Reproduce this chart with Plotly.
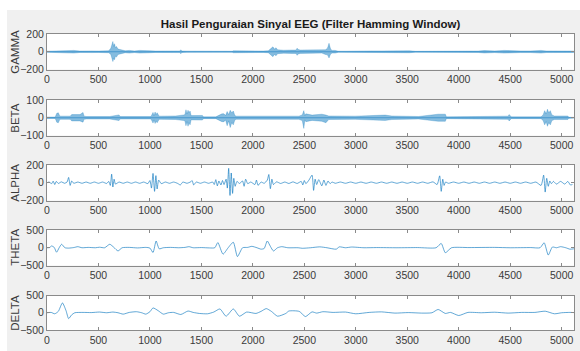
import plotly.graph_objects as go
from plotly.subplots import make_subplots

# ---------------- data ----------------
title_text = "Hasil Penguraian Sinyal EEG (Filter Hamming Window)"
band_names = ["GAMMA", "BETA", "ALPHA", "THETA", "DELTA"]
y_limits = [200, 100, 200, 500, 500]
x_ticks = [0, 500, 1000, 1500, 2000, 2500, 3000, 3500, 4000, 4500, 5000]
n_samples = 5120

# GAMMA: dense oscillation -> upper / lower envelope
gamma_x = [0, 60, 120, 200, 260, 320, 380, 430, 500, 560, 600, 620, 632, 640, 648, 656,
           665, 675, 690, 720, 760, 800, 850, 900, 950, 1000, 1050, 1100, 1200, 1290, 1300,
           1310, 1360, 1450, 1460, 1550, 1640, 1650, 1700, 1800, 1810, 1900, 2000, 2100,
           2150, 2180, 2195, 2210, 2225, 2240, 2260, 2300, 2380, 2420, 2430, 2440, 2460,
           2520, 2575, 2620, 2670, 2705, 2725, 2740, 2755, 2770, 2800, 2830, 2900, 3000,
           3030, 3060, 3150, 3250, 3350, 3400, 3470, 3520, 3580, 3700, 3850, 4000, 4060,
           4130, 4190, 4250, 4350, 4440, 4510, 4600, 4700, 4800, 4850, 4930, 5000, 5119]
gamma_hi = [6, 9, 14, 12, 15, 8, 11, 9, 8, 9, 11, 40, 80, 115, 60, 90,
            45, 60, 30, 20, 11, 15, 9, 15, 9, 11, 8, 9, 8, 9, 22,
            8, 7, 6, 12, 6, 6, 11, 6, 6, 11, 8, 8, 8,
            11, 35, 55, 30, 45, 22, 20, 17, 19, 19, 40, 25, 19,
            19, 17, 15, 15, 22, 40, 95, 30, 15, 15, 6, 6, 8,
            14, 9, 9, 9, 11, 14, 11, 11, 5, 5, 5, 5, 9,
            9, 8, 14, 9, 15, 9, 9, 9, 15, 9, 9, 9, 8]
gamma_lo = [-6, -9, -14, -12, -15, -8, -11, -9, -8, -9, -11, -30, -70, -110, -75, -90,
            -50, -60, -30, -20, -11, -15, -9, -15, -9, -11, -8, -9, -8, -9, -22,
            -8, -7, -6, -12, -6, -6, -11, -6, -6, -11, -8, -8, -8,
            -11, -35, -55, -30, -45, -22, -20, -17, -19, -19, -40, -25, -19,
            -19, -17, -15, -15, -30, -35, -70, -25, -15, -15, -6, -6, -8,
            -14, -9, -9, -9, -11, -14, -11, -11, -5, -5, -5, -5, -9,
            -9, -8, -14, -9, -15, -9, -9, -9, -15, -9, -9, -9, -8]

# BETA: dense oscillation -> upper / lower envelope
beta_x = [0, 80, 95, 110, 125, 225, 240, 320, 350, 360, 385, 610, 700, 710, 1010, 1030,
          1040, 1050, 1060, 1070, 1090, 1250, 1330, 1340, 1350, 1360, 1370, 1380, 1390,
          1400, 1510, 1520, 1640, 1700, 1720, 1735, 1750, 1765, 1780, 1795, 1810, 1825,
          1840, 1990, 2220, 2447, 2480, 2495, 2505, 2515, 2575, 2670, 2710, 2737, 2995,
          3285, 3350, 3610, 3800, 3870, 3880, 4320, 4480, 4490, 4500, 4510, 4800, 4820,
          4835, 4850, 4862, 4875, 4890, 4905, 4930, 5060, 5070, 5119]
beta_hi = [4, 4, 25, 28, 9, 9, 18, 18, 30, 9, 7, 7, 16, 7, 7, 30,
           12, 32, 18, 28, 9, 10, 16, 18, 45, 22, 42, 28, 38,
           12, 13, 5, 5, 22, 22, 12, 35, 18, 42, 28, 38, 12,
           9, 10, 10, 9, 16, 40, 12, 22, 15, 20, 15, 10, 9,
           15, 10, 7, 20, 20, 5, 5, 9, 18, 9, 5, 5, 16,
           40, 22, 48, 28, 40, 16, 10, 10, 3, 2]
beta_lo = [-4, -4, -25, -28, -9, -9, -18, -18, -25, -9, -7, -7, -16, -7, -7, -30,
           -12, -32, -18, -28, -9, -10, -16, -18, -45, -22, -48, -28, -40,
           -12, -13, -5, -5, -22, -22, -12, -45, -18, -55, -28, -40, -12,
           -9, -10, -10, -9, -16, -60, -12, -22, -15, -20, -28, -10, -9,
           -15, -10, -7, -20, -20, -5, -5, -9, -18, -9, -5, -5, -16,
           -40, -22, -48, -28, -40, -16, -10, -10, -3, -2]

# ALPHA: waveform points
alpha_x = [0, 20, 45, 60, 75, 90, 110, 140, 170, 195, 210, 225, 240, 260, 300, 340, 380,
           420, 460, 500, 540, 580, 600, 615, 628, 640, 652, 665, 700, 740, 780, 820, 860,
           900, 940, 980, 1000, 1015, 1030, 1045, 1058, 1070, 1085, 1110, 1150, 1190,
           1230, 1270, 1295, 1320, 1360, 1395, 1410, 1425, 1450, 1490, 1530, 1570, 1610,
           1625, 1640, 1655, 1670, 1690, 1705, 1720, 1740, 1752, 1765, 1778, 1790, 1803,
           1815, 1828, 1845, 1870, 1900, 1915, 1930, 1950, 1980, 2020, 2035, 2050, 2080,
           2110, 2140, 2155, 2170, 2185, 2200, 2230, 2270, 2310, 2350, 2390, 2430, 2470,
           2485, 2500, 2515, 2545, 2575, 2590, 2605, 2620, 2640, 2670, 2690, 2710, 2730,
           2750, 2770, 2800, 2850, 2900, 2950, 3000, 3050, 3100, 3150, 3200, 3250, 3300,
           3350, 3400, 3450, 3500, 3550, 3600, 3650, 3700, 3750, 3790, 3815, 3830, 3845,
           3858, 3872, 3900, 3950, 4000, 4050, 4100, 4150, 4200, 4250, 4300, 4350, 4400,
           4450, 4500, 4550, 4600, 4650, 4700, 4750, 4800, 4825, 4840, 4855, 4870, 4885,
           4900, 4920, 4950, 4990, 5030, 5060, 5085, 5105, 5119]
alpha_y = [0, 8, -10, 18, -20, 15, -8, 10, -6, 8, 60, -30, 20, -6, 8, -6, 8,
           -6, 8, -6, 8, -8, 15, -30, 97, -48, 40, -15, 8, -6, 8, -6, 8,
           -6, 8, -10, 25, -60, 105, -97, 80, -70, 30, -10, 8, -6,
           8, -8, -25, 8, -6, 10, 25, -25, 8, -6, 8, -6, 8,
           -20, 35, -35, 20, -25, 25, -20, 40, -60, 162, -143, 110, -120,
           50, -40, 15, -8, 20, -40, 40, -10, 8, -20, 30, -30, 8,
           -6, 30, 93, -67, 40, -20, 10, -8, 8, -8, 10, -8, 15,
           -25, 25, -10, 30, 86, -86, 40, -20, 35, -35, 30, -30,
           20, -10, 8, -6, 8, -6, 8, -6, 8, -6, 8, -6, 8,
           -6, 8, -6, 8, -6, 8, -6, 8, -6, 10, -20, 78, -97,
           40, -30, 8, -6, 8, -6, 8, -6, 8, -6, 8, -6, 8,
           -6, 8, -6, 8, -6, 8, -6, 8, -30, 86, -105, 50, -40,
           20, -10, 15, -15, 15, -15, 15, -25, -20]

# THETA: waveform points
theta_x = [0, 25, 45, 70, 93, 118, 142, 174, 210, 260, 300, 340, 400, 470, 510, 560, 610,
           650, 690, 730, 800, 880, 960, 1000, 1030, 1060, 1090, 1130, 1200, 1280, 1340,
           1380, 1420, 1500, 1580, 1630, 1660, 1710, 1760, 1810, 1850, 1900, 1950, 1990,
           2040, 2080, 2110, 2140, 2170, 2200, 2240, 2280, 2340, 2440, 2480, 2560, 2650,
           2720, 2810, 2840, 2900, 2960, 3080, 3200, 3400, 3600, 3780, 3830, 3870, 3930,
           4100, 4350, 4500, 4700, 4790, 4830, 4870, 4910, 4950, 4990, 5040, 5080, 5119]
theta_y = [0, 5, 50, 10, -126, 0, 98, 0, -10, 5, 30, 0, 10, 0, 15, 0, 98,
           10, -90, 0, 10, -5, 10, -10, -135, 190, -30, 0, 10, 0, 10,
           30, 0, 5, -5, 0, 145, -180, 0, 155, -248, 0, 10, 40,
           0, -40, -20, 190, 40, -90, 0, 30, 0, 0, -15, 0, 25,
           0, -40, 25, 0, 20, 0, 5, 0, 5, 0, 120, -140, 0,
           5, 10, 0, 5, 0, 140, -205, 20, 0, 30, 0, -40, -30]

# DELTA: waveform points
delta_x = [0, 40, 75, 110, 150, 185, 210, 240, 270, 350, 430, 510, 580, 640, 690, 740, 800,
           870, 920, 960, 1000, 1030, 1080, 1130, 1180, 1230, 1300, 1370, 1420, 1480, 1560,
           1620, 1680, 1740, 1810, 1870, 1940, 2030, 2080, 2130, 2180, 2240, 2320, 2350,
           2450, 2511, 2575, 2620, 2680, 2780, 2900, 3000, 3130, 3250, 3380, 3510, 3640,
           3740, 3800, 3870, 3920, 4000, 4090, 4220, 4350, 4480, 4610, 4740, 4840, 4930,
           5000, 5080, 5119]
delta_y = [0, 10, -30, 40, 285, 60, -170, -60, 0, 10, 5, 20, 0, 20, 0, -40, 10,
           30, 0, -40, 30, 140, 60, -40, 0, 10, -50, 50, 10, -20, -30,
           20, 110, -100, 110, -100, 20, -20, 40, 120, 40, -100, -20, 50,
           40, -110, 25, -10, 30, 10, 20, -30, 10, 25, -10, 5, -10,
           0, 95, -20, 10, -80, 10, 0, 15, -10, 10, 10, 45, -30,
           0, 10, 5]

# ---------------- figure ----------------
W, H = 580, 351
ML, MR, MT, MB = 47, 6, 34, 21
plot_w = W - ML - MR
plot_h = H - MT - MB
panel_px = [(34, 69.5), (100, 135.5), (165, 200.5), (230, 265.5), (295.5, 330)]
domains = [[(H - MB - b) / plot_h, (H - MB - t) / plot_h] for t, b in panel_px]

line_col = "rgba(0,114,189,0.62)"
edge_col = "rgba(0,114,189,0.5)"
fill_col = "rgba(0,114,189,0.48)"
center_col = "rgba(0,114,189,0.6)"
axis_col = "#8a8a8a"
text_col = "#3a3a3a"
font_fam = "Liberation Sans, Arial, sans-serif"

fig = make_subplots(rows=5, cols=1)

def add_band(row, xs, hi, lo):
    fig.add_trace(go.Scatter(x=xs, y=hi, mode="lines", line=dict(color=edge_col, width=0.5),
                             showlegend=False, hoverinfo="skip"), row=row, col=1)
    fig.add_trace(go.Scatter(x=xs, y=lo, mode="lines", line=dict(color=edge_col, width=0.5),
                             fill="tonexty", fillcolor=fill_col,
                             showlegend=False, hoverinfo="skip"), row=row, col=1)
    fig.add_trace(go.Scatter(x=[xs[0], xs[-1]], y=[0, 0], mode="lines",
                             line=dict(color=center_col, width=0.8),
                             showlegend=False, hoverinfo="skip"), row=row, col=1)

def add_wave(row, xs, ys):
    fig.add_trace(go.Scatter(x=xs, y=ys, mode="lines",
                             line=dict(color=line_col, width=1, shape="spline", smoothing=0.6),
                             showlegend=False, hoverinfo="skip"), row=row, col=1)

add_band(1, gamma_x, gamma_hi, gamma_lo)
add_band(2, beta_x, beta_hi, beta_lo)
add_wave(3, alpha_x, alpha_y)
add_wave(4, theta_x, theta_y)
add_wave(5, delta_x, delta_y)

for i in range(5):
    r = i + 1
    lim = y_limits[i]
    fig.update_xaxes(row=r, col=1, range=[0, n_samples], tickvals=x_ticks,
                     ticks="inside", ticklen=3, tickcolor=axis_col, mirror="ticks",
                     showline=True, linecolor=axis_col, linewidth=1,
                     showgrid=False, zeroline=False,
                     tickfont=dict(family=font_fam, size=10.5, color=text_col))
    fig.update_yaxes(row=r, col=1, range=[-lim, lim], tickvals=[-lim, 0, lim],
                     ticks="inside", ticklen=3, tickcolor=axis_col, mirror="ticks",
                     showline=True, linecolor=axis_col, linewidth=1,
                     showgrid=False, zeroline=False, domain=domains[i],
                     tickfont=dict(family=font_fam, size=10.5, color=text_col))
    fig.add_annotation(text=band_names[i], textangle=-90, xref="paper", yref="paper",
                       x=(15 - ML) / plot_w, y=(domains[i][0] + domains[i][1]) / 2,
                       showarrow=False, xanchor="center", yanchor="middle",
                       font=dict(family=font_fam, size=11.5, color=text_col))

# white strips at the top and left edge (outside the grey MATLAB figure area)
fig.add_shape(type="rect", xref="paper", yref="paper", layer="above",
              x0=-ML / plot_w, x1=(W - ML) / plot_w,
              y0=(H - MB - 10) / plot_h, y1=(H - MB) / plot_h,
              fillcolor="white", line=dict(width=0))
fig.add_shape(type="rect", xref="paper", yref="paper", layer="above",
              x0=-ML / plot_w, x1=(7 - ML) / plot_w,
              y0=-MB / plot_h, y1=(H - MB) / plot_h,
              fillcolor="white", line=dict(width=0))

fig.update_layout(
    width=W, height=H,
    margin=dict(l=ML, r=MR, t=MT, b=MB),
    paper_bgcolor="#f0f0f0", plot_bgcolor="white",
    title=dict(text="<b>" + title_text + "</b>", x=(ML + plot_w / 2) / W,
               xanchor="center", y=1 - 24 / H, yanchor="middle",
               font=dict(family=font_fam, size=11.5, color="#1a1a1a")),
)

fig.write_html("out.html")
